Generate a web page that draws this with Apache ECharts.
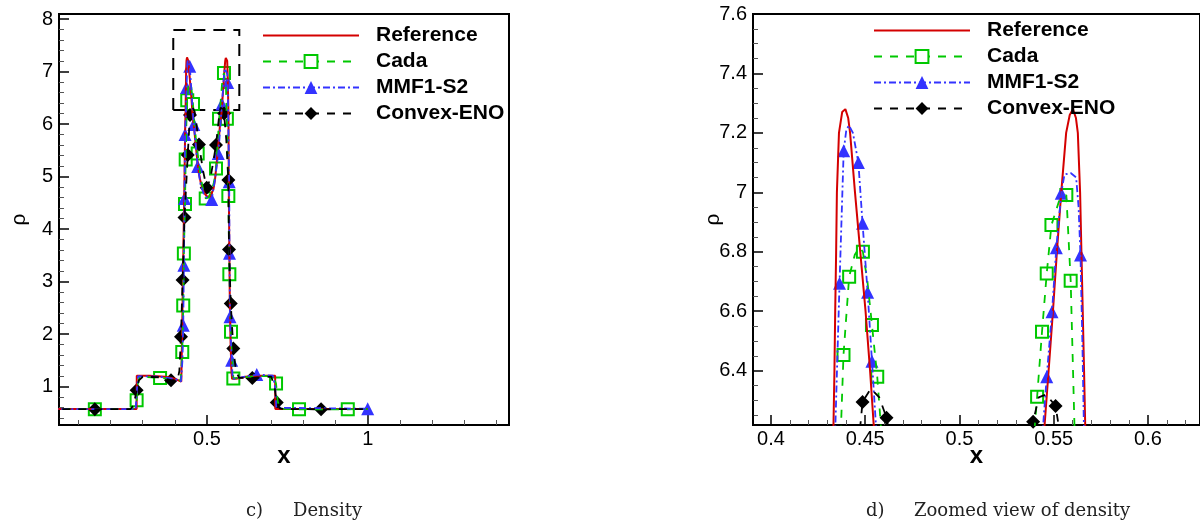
<!DOCTYPE html>
<html>
<head>
<meta charset="utf-8">
<script src="https://cdn.jsdelivr.net/npm/echarts@6/dist/echarts.min.js"></script>
<style>
html,body{margin:0;padding:0;background:#fff;}
#chart{width:1200px;height:522px;}
</style>
</head>
<body>
<div id="chart"></div>
<script>
// ---------- names & labels ----------
const seriesNames = ['Reference', 'Cada', 'MMF1-S2', 'Convex-ENO'];
const xTickLabelsLeft = ['0.5', '1'];
const yTickLabelsLeft = ['1', '2', '3', '4', '5', '6', '7', '8'];
const xTickLabelsRight = ['0.4', '0.45', '0.5', '0.55', '0.6'];
const yTickLabelsRight = ['6.4', '6.6', '6.8', '7', '7.2', '7.4', '7.6'];
const captions = ['c)', 'Density', 'd)', 'Zoomed view of density'];
// axis ranges [min, max]
const xRangeLeft = [0.0395, 1.4396];
const yRangeLeft = [0.271, 8.095];
const xRangeRight = [0.3905, 0.6276];
const yRangeRight = [6.2173, 7.6];
// dashed zoom box in panel c: [x1, y1, x2, y2]
const zoomBox = [0.395, 6.267, 0.6005, 7.79];

// ---------- lines (x, rho) ----------
const refLine = [[0.0,0.575],[0.281,0.575],[0.2815,1.21],[0.32,1.21],[0.37,1.19],[0.40,1.15],[0.420,1.10],[0.4225,2.0],[0.425,3.0],[0.4275,4.0],[0.430,5.0],[0.432,5.9],[0.4332,6.22],[0.4337,6.4],[0.4341,6.6],[0.4346,6.8],[0.4350,7.0],[0.4361,7.2],[0.4378,7.27],[0.4395,7.28],[0.4410,7.25],[0.4420,7.2],[0.4446,7.0],[0.4474,6.8],[0.4502,6.6],[0.4526,6.4],[0.4545,6.22],[0.457,6.08],[0.460,5.92],[0.465,5.6],[0.470,5.3],[0.475,5.06],[0.480,4.9],[0.490,4.7],[0.500,4.62],[0.510,4.62],[0.520,4.76],[0.525,4.95],[0.530,5.25],[0.535,5.6],[0.540,5.95],[0.5452,6.22],[0.5473,6.4],[0.5496,6.6],[0.5517,6.8],[0.5540,7.0],[0.5566,7.2],[0.5585,7.26],[0.5602,7.28],[0.5618,7.25],[0.5628,7.2],[0.5640,7.0],[0.5647,6.8],[0.5654,6.6],[0.5661,6.4],[0.5667,6.22],[0.5673,5.5],[0.568,4.6],[0.5695,3.6],[0.571,2.6],[0.5735,1.8],[0.576,1.3],[0.578,1.15],[0.59,1.15],[0.62,1.19],[0.66,1.21],[0.712,1.21],[0.7125,0.575],[1.0,0.575]];

const cadaLine = [[0.0,0.575],[0.268,0.575],[0.275,0.6],[0.281,0.743],[0.285,1.05],[0.290,1.19],[0.354,1.168],[0.40,1.14],[0.418,1.12],[0.423,1.663],[0.426,2.546],[0.428,3.537],[0.4315,4.476],[0.4337,5.327],[0.4358,6.0],[0.4372,6.217],[0.4385,6.453],[0.4415,6.716],[0.4445,6.79],[0.4470,6.815],[0.4488,6.80],[0.4512,6.70],[0.4536,6.554],[0.4564,6.380],[0.4583,6.217],[0.4610,6.0],[0.465,5.75],[0.471,5.44],[0.48,5.0],[0.488,4.75],[0.496,4.585],[0.505,4.6],[0.515,4.75],[0.522,4.9],[0.528,5.156],[0.533,5.6],[0.5374,6.10],[0.5400,6.217],[0.5412,6.312],[0.5438,6.531],[0.5463,6.727],[0.5488,6.890],[0.5528,6.97],[0.5567,6.991],[0.5590,6.703],[0.5610,6.217],[0.5618,6.1],[0.5645,5.2],[0.5664,4.629],[0.5695,3.143],[0.5747,2.044],[0.5819,1.156],[0.60,1.17],[0.65,1.2],[0.706,1.2],[0.7148,1.06],[0.720,0.72],[0.728,0.58],[0.7863,0.57],[0.938,0.57],[1.0,0.575]];

const mmfLine = [[0.0,0.575],[0.278,0.575],[0.2815,0.9],[0.2855,1.2],[0.35,1.19],[0.40,1.15],[0.419,1.1],[0.4235,1.5],[0.426,2.17],[0.428,3.31],[0.4300,4.585],[0.4318,5.80],[0.4342,6.217],[0.4364,6.694],[0.4386,7.14],[0.4400,7.21],[0.4414,7.225],[0.4435,7.2],[0.4464,7.10],[0.4486,6.896],[0.4513,6.664],[0.4536,6.432],[0.4557,6.217],[0.4590,5.99],[0.465,5.6],[0.471,5.19],[0.48,4.85],[0.49,4.67],[0.50,4.6],[0.5146,4.566],[0.525,4.95],[0.535,5.44],[0.5410,5.9],[0.5444,6.217],[0.5463,6.380],[0.5491,6.598],[0.5514,6.814],[0.5540,6.997],[0.5557,7.06],[0.5590,7.065],[0.5619,7.05],[0.5632,6.95],[0.5642,6.789],[0.5652,6.5],[0.5660,6.217],[0.5675,5.5],[0.5690,4.90],[0.5700,3.54],[0.5716,2.33],[0.5768,1.505],[0.580,1.15],[0.60,1.17],[0.6547,1.23],[0.705,1.21],[0.712,1.0],[0.716,0.6],[0.72,0.575],[1.0,0.58]];

const enoLine = [[0.0,0.575],[0.262,0.575],[0.272,0.65],[0.281,0.933],[0.288,1.12],[0.30,1.19],[0.35,1.18],[0.388,1.124],[0.408,1.12],[0.414,1.3],[0.419,1.95],[0.424,3.03],[0.430,4.22],[0.440,5.41],[0.4470,6.17],[0.4475,6.22],[0.4486,6.295],[0.4530,6.34],[0.4575,6.31],[0.4613,6.242],[0.4640,6.15],[0.475,5.61],[0.488,5.1],[0.499,4.787],[0.510,4.95],[0.520,5.3],[0.528,5.60],[0.5391,6.228],[0.5420,6.31],[0.5460,6.32],[0.5510,6.281],[0.553,6.2],[0.560,5.7],[0.5664,4.933],[0.5685,3.613],[0.5738,2.585],[0.5819,1.727],[0.590,1.3],[0.600,1.17],[0.641,1.168],[0.700,1.19],[0.710,1.0],[0.717,0.70],[0.726,0.59],[0.74,0.575],[0.8548,0.57],[1.0,0.575]];

// ---------- symbols shown in panel c ----------
const cadaMarksLeft = [[0.151,0.57],[0.281,0.743],[0.354,1.168],[0.423,1.663],[0.426,2.546],[0.428,3.537],[0.4315,4.476],[0.4337,5.327],[0.4385,6.453],[0.4564,6.38],[0.471,5.44],[0.496,4.585],[0.528,5.156],[0.5374,6.10],[0.5528,6.97],[0.5618,6.1],[0.5664,4.629],[0.5695,3.143],[0.5747,2.044],[0.5819,1.156],[0.7148,1.06],[0.7863,0.57],[0.938,0.57]];
const mmfMarksLeft = [[0.426,2.17],[0.428,3.31],[0.4300,4.585],[0.4318,5.80],[0.4364,6.694],[0.4464,7.10],[0.4590,5.99],[0.471,5.19],[0.5146,4.566],[0.535,5.44],[0.5463,6.38],[0.5642,6.789],[0.5690,4.90],[0.5700,3.54],[0.5716,2.33],[0.5768,1.505],[0.6547,1.23],[1.0,0.58]];
const enoMarksLeft = [[0.151,0.57],[0.281,0.933],[0.388,1.124],[0.419,1.95],[0.424,3.03],[0.430,4.22],[0.440,5.41],[0.4470,6.17],[0.475,5.61],[0.499,4.787],[0.528,5.60],[0.553,6.20],[0.5664,4.933],[0.5685,3.613],[0.5738,2.585],[0.5819,1.727],[0.641,1.168],[0.717,0.70],[0.8548,0.57]];

// ---------- symbols shown in panel d ----------
const cadaMarksRight = [[0.4385,6.453],[0.4415,6.716],[0.4488,6.80],[0.4536,6.554],[0.4564,6.380],[0.5412,6.312],[0.5438,6.531],[0.5463,6.727],[0.5488,6.890],[0.5567,6.991],[0.5590,6.703]];
const mmfMarksRight = [[0.4364,6.694],[0.4386,7.14],[0.4464,7.10],[0.4486,6.896],[0.4513,6.664],[0.4536,6.432],[0.5463,6.380],[0.5491,6.598],[0.5514,6.814],[0.5540,6.997],[0.5642,6.789]];
const enoMarksRight = [[0.4486,6.295],[0.4613,6.242],[0.5391,6.228],[0.5510,6.281]];

// ---------- styling ----------
const RED = '#d40000', GREEN = '#00c800', BLUE = '#3333ff', BLACK = '#000000';
const SANS = 'Liberation Sans';
const styles = {
  'Reference':  {color: RED,   type: 'solid',      width: 2,   symbol: 'circle', symColor: 'rgba(0,0,0,0)'},
  'Cada':       {color: GREEN, type: [8, 8],       width: 1.8, symbol: 'emptyRect', symColor: GREEN},
  'MMF1-S2':    {color: BLUE,  type: [7, 3, 2, 3], width: 1.8, symbol: 'triangle', symColor: BLUE},
  'Convex-ENO': {color: BLACK, type: [8, 8],       width: 1.8, symbol: 'diamond', symColor: BLACK}
};
const markSize = {'Cada': 12, 'MMF1-S2': 13, 'Convex-ENO': 14};

function labelFormatter(list) {
  return function (v) {
    for (const s of list) { if (Math.abs(Number(s) - v) < 1e-9) return s; }
    return '';
  };
}
function xAxisCfg(gi, range, iv, minorSplit, labels) {
  return {
    type: 'value', gridIndex: gi, min: range[0], max: range[1],
    splitNumber: Math.round((range[1] - range[0]) / iv), minInterval: iv, maxInterval: iv,
    axisLine: {show: true, onZero: false, lineStyle: {color: '#000', width: 2}},
    axisTick: {show: true, inside: true, length: 10, lineStyle: {color: '#000', width: 1.5}},
    minorTick: {show: true, splitNumber: minorSplit, length: 5, lineStyle: {color: '#555', width: 1}},
    splitLine: {show: false}, minorSplitLine: {show: false},
    axisLabel: {color: '#000', fontFamily: SANS, fontSize: 20, margin: 4,
      showMinLabel: false, showMaxLabel: false, formatter: labelFormatter(labels)},
    name: 'x', nameLocation: 'middle', nameGap: 19, nameMoveOverlap: false,
    nameTextStyle: {color: '#000', fontFamily: SANS, fontSize: 24, fontWeight: 'bold'}
  };
}
function yAxisCfg(gi, range, iv, minorSplit, labels, showMax) {
  return {
    type: 'value', gridIndex: gi, min: range[0], max: range[1],
    splitNumber: Math.round((range[1] - range[0]) / iv), minInterval: iv, maxInterval: iv,
    axisLine: {show: true, onZero: false, lineStyle: {color: '#000', width: 2}},
    axisTick: {show: true, inside: true, length: 10, lineStyle: {color: '#000', width: 1.5}},
    minorTick: {show: true, splitNumber: minorSplit, length: 5, lineStyle: {color: '#555', width: 1}},
    splitLine: {show: false}, minorSplitLine: {show: false},
    axisLabel: {color: '#000', fontFamily: SANS, fontSize: 20, margin: 6,
      showMinLabel: false, showMaxLabel: showMax, formatter: labelFormatter(labels)},
    name: 'ρ', nameLocation: 'middle', nameRotate: 90, nameGap: 29, nameMoveOverlap: false,
    nameTextStyle: {color: '#000', fontFamily: SANS, fontSize: 21}
  };
}

function lineSeries(name, data, gi, extra) {
  const st = styles[name];
  return Object.assign({
    type: 'line', name: name, data: data, xAxisIndex: gi, yAxisIndex: gi,
    symbol: st.symbol, symbolSize: 12, showSymbol: false, clip: true, silent: true,
    itemStyle: {color: st.symColor},
    lineStyle: {color: st.color, width: st.width, type: st.type},
    emphasis: {disabled: true}
  }, extra || {});
}
function markSeries(name, data, gi) {
  const st = styles[name];
  return {
    type: 'scatter', name: name + ' symbols', data: data, xAxisIndex: gi, yAxisIndex: gi,
    symbol: st.symbol, symbolSize: markSize[name], silent: true,
    itemStyle: {color: st.color, opacity: 1},
    emphasis: {disabled: true}
  };
}

const series = [];
// panel c
series.push(lineSeries('Reference', refLine, 0, {
  markArea: {silent: true, label: {show: false},
    itemStyle: {color: 'rgba(0,0,0,0)', borderColor: '#000', borderWidth: 2, borderType: [12, 8]},
    data: [[{xAxis: zoomBox[0], yAxis: zoomBox[1]}, {xAxis: zoomBox[2], yAxis: zoomBox[3]}]]}
}));
series.push(lineSeries('Cada', cadaLine, 0));
series.push(markSeries('Cada', cadaMarksLeft, 0));
series.push(lineSeries('MMF1-S2', mmfLine, 0));
series.push(markSeries('MMF1-S2', mmfMarksLeft, 0));
series.push(lineSeries('Convex-ENO', enoLine, 0));
series.push(markSeries('Convex-ENO', enoMarksLeft, 0));
// panel d
series.push(lineSeries('Reference', refLine, 1));
series.push(lineSeries('Cada', cadaLine, 1));
series.push(markSeries('Cada', cadaMarksRight, 1));
series.push(lineSeries('MMF1-S2', mmfLine, 1));
series.push(markSeries('MMF1-S2', mmfMarksRight, 1));
series.push(lineSeries('Convex-ENO', enoLine, 1));
series.push(markSeries('Convex-ENO', enoMarksRight, 1));

function legendCfg(left, top) {
  return {
    data: seriesNames, orient: 'vertical', left: left, top: top,
    itemWidth: 96, itemHeight: 16, itemGap: 5, padding: 0, selectedMode: false,
    textStyle: {color: '#000', fontFamily: SANS, fontSize: 21, fontWeight: 'bold', padding: [0, 0, 0, 12]}
  };
}
const capStyle = {color: '#222', fontFamily: 'DejaVu Serif', fontSize: 18, fontWeight: 'normal'};

const option = {
  animation: false,
  backgroundColor: '#fff',
  title: [
    {text: captions[0], left: 246, top: 502, padding: 0, textStyle: capStyle},
    {text: captions[1], left: 293, top: 502, padding: 0, textStyle: capStyle},
    {text: captions[2], left: 866, top: 502, padding: 0, textStyle: capStyle},
    {text: captions[3], left: 914, top: 502, padding: 0, textStyle: capStyle}
  ],
  legend: [legendCfg(262, 25), legendCfg(873, 20)],
  grid: [
    {left: 59, top: 14, width: 450, height: 411, containLabel: false, show: true, borderColor: '#000', borderWidth: 2, backgroundColor: 'transparent'},
    {left: 753, top: 14, width: 450, height: 411, containLabel: false, show: true, borderColor: '#000', borderWidth: 2, backgroundColor: 'transparent'}
  ],
  xAxis: [
    xAxisCfg(0, xRangeLeft, 0.5, 5, xTickLabelsLeft),
    xAxisCfg(1, xRangeRight, 0.05, 5, xTickLabelsRight)
  ],
  yAxis: [
    yAxisCfg(0, yRangeLeft, 1, 5, yTickLabelsLeft, false),
    yAxisCfg(1, yRangeRight, 0.2, 4, yTickLabelsRight, true)
  ],
  series: series
};

const chart = echarts.init(document.getElementById('chart'), null, {renderer: 'canvas'});
chart.setOption(option);
</script>
</body>
</html>
